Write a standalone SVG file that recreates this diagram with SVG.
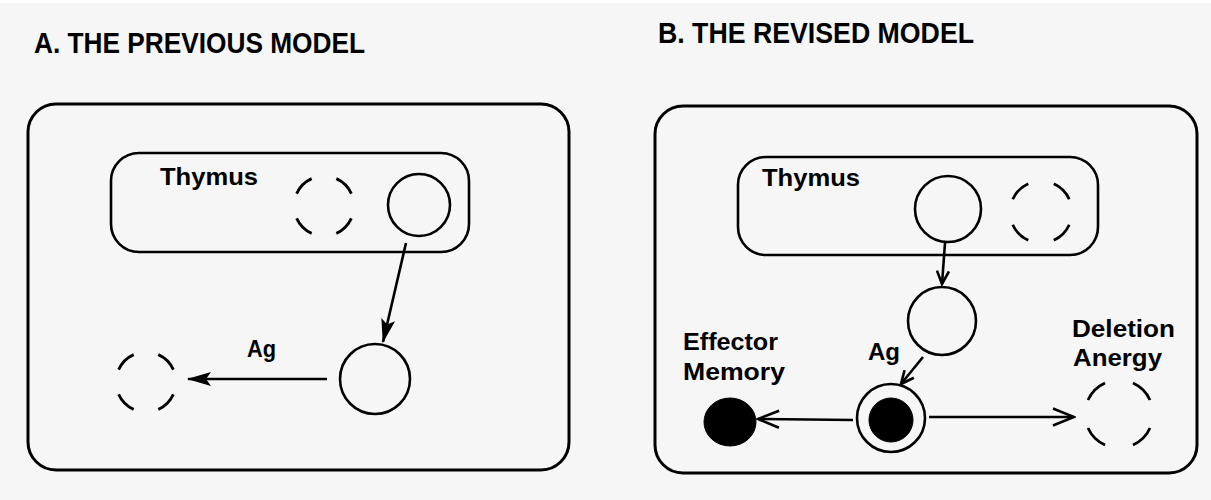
<svg xmlns="http://www.w3.org/2000/svg" width="1211" height="500" viewBox="0 0 1211 500">
<defs>
<style>
.bg{fill:#f6f6f6}
.box{fill:none;stroke:#000;stroke-width:3}
.thy{fill:none;stroke:#000;stroke-width:2.6}
.cell{fill:none;stroke:#000;stroke-width:2.6}
.dash{fill:none;stroke:#000;stroke-width:2.8;stroke-dasharray:11.5 13.5;stroke-dashoffset:18.25}
.fill{fill:#000;stroke:#000;stroke-width:1}
.conn{fill:none;stroke:#000;stroke-width:2.6}
.title{font-family:"Liberation Sans Narrow","Liberation Sans",Arial,sans-serif;font-weight:bold;font-size:29px;fill:#000}
.lbl{font-family:"Liberation Sans",Arial,sans-serif;font-weight:bold;font-size:24px;fill:#000}
</style>
<marker id="mFill" viewBox="0 0 24 16" refX="23" refY="8" markerWidth="24" markerHeight="16" markerUnits="userSpaceOnUse" orient="auto">
<path d="M0,1 L24,8 L0,15 L5,8 z" fill="#000"/>
</marker>
<marker id="mOpen" viewBox="0 0 24 20" refX="22" refY="10" markerWidth="24" markerHeight="20" markerUnits="userSpaceOnUse" orient="auto">
<path d="M1,1.5 L22,10 L1,18.5" fill="none" stroke="#000" stroke-width="2.6"/>
</marker>
<marker id="mOpenS" viewBox="0 0 16 14" refX="14" refY="7" markerWidth="16" markerHeight="14" markerUnits="userSpaceOnUse" orient="auto">
<path d="M1,1 L14,7 L1,13" fill="none" stroke="#000" stroke-width="2.6"/>
</marker>
</defs>
<rect class="bg" x="0" y="0" width="1211" height="500"/>
<rect x="0" y="0" width="1211" height="3" fill="#fff"/>

<text id="titleA" class="title" x="34" y="53" textLength="331" lengthAdjust="spacingAndGlyphs">A. THE PREVIOUS MODEL</text>
<text id="titleB" class="title" x="658" y="43" textLength="316" lengthAdjust="spacingAndGlyphs">B. THE REVISED MODEL</text>

<g id="panelA">
<rect class="box" x="28" y="104" width="541" height="366" rx="28"/>
</g>
<g id="thymusA">
<rect class="thy" x="111" y="153" width="358" height="99" rx="28"/>
<text class="lbl" x="160" y="185" textLength="98" lengthAdjust="spacingAndGlyphs">Thymus</text>
</g>
<g id="A-thy-deleted"><circle class="dash" cx="324" cy="206" r="30" pathLength="100"/></g>
<g id="A-thy-cell"><circle class="cell" cx="419" cy="205" r="31"/></g>
<g id="A-periph-cell"><circle class="cell" cx="375" cy="379" r="35"/></g>
<g id="A-ag-deleted"><circle class="dash" cx="146" cy="382" r="30" pathLength="100"/></g>
<g id="A-ag-label"><text class="lbl" x="247" y="357" textLength="29" lengthAdjust="spacingAndGlyphs">Ag</text></g>

<g id="panelB">
<rect class="box" x="655" y="106" width="542" height="367" rx="28"/>
</g>
<g id="thymusB">
<rect class="thy" x="738" y="157" width="360" height="98" rx="28"/>
<text class="lbl" x="762" y="186" textLength="98" lengthAdjust="spacingAndGlyphs">Thymus</text>
</g>
<g id="B-thy-cell"><circle class="cell" cx="948" cy="209" r="33"/></g>
<g id="B-thy-deleted"><circle class="dash" cx="1041" cy="212" r="31" pathLength="100"/></g>
<g id="B-periph-cell"><circle class="cell" cx="942" cy="321" r="34"/></g>
<g id="B-activated">
<circle class="cell" cx="891" cy="418" r="34"/>
<circle class="fill" cx="891" cy="420" r="22"/>
<text class="lbl" x="868" y="360" textLength="32" lengthAdjust="spacingAndGlyphs">Ag</text>
</g>
<g id="B-effector">
<ellipse class="fill" cx="730" cy="422" rx="26" ry="24"/>
<text class="lbl" x="683" y="350" textLength="95" lengthAdjust="spacingAndGlyphs">Effector</text>
<text class="lbl" x="683" y="380" textLength="102" lengthAdjust="spacingAndGlyphs">Memory</text>
</g>
<g id="B-deletion">
<circle class="dash" cx="1119" cy="414" r="34" pathLength="100"/>
<text class="lbl" x="1072" y="337" textLength="103" lengthAdjust="spacingAndGlyphs">Deletion</text>
<text class="lbl" x="1073" y="366" textLength="89" lengthAdjust="spacingAndGlyphs">Anergy</text>
</g>

<g id="connectors">
<line class="conn" x1="406" y1="243" x2="383" y2="342" marker-end="url(#mFill)"/>
<line class="conn" x1="327" y1="379" x2="188" y2="379" marker-end="url(#mFill)"/>
<line class="conn" x1="945" y1="243" x2="942" y2="284" marker-end="url(#mOpenS)"/>
<line class="conn" x1="923" y1="357" x2="901" y2="384" marker-end="url(#mOpenS)"/>
<line class="conn" x1="853" y1="420" x2="758" y2="419" marker-end="url(#mOpen)"/>
<line class="conn" x1="929" y1="417" x2="1074" y2="417" marker-end="url(#mOpen)"/>
</g>
</svg>
